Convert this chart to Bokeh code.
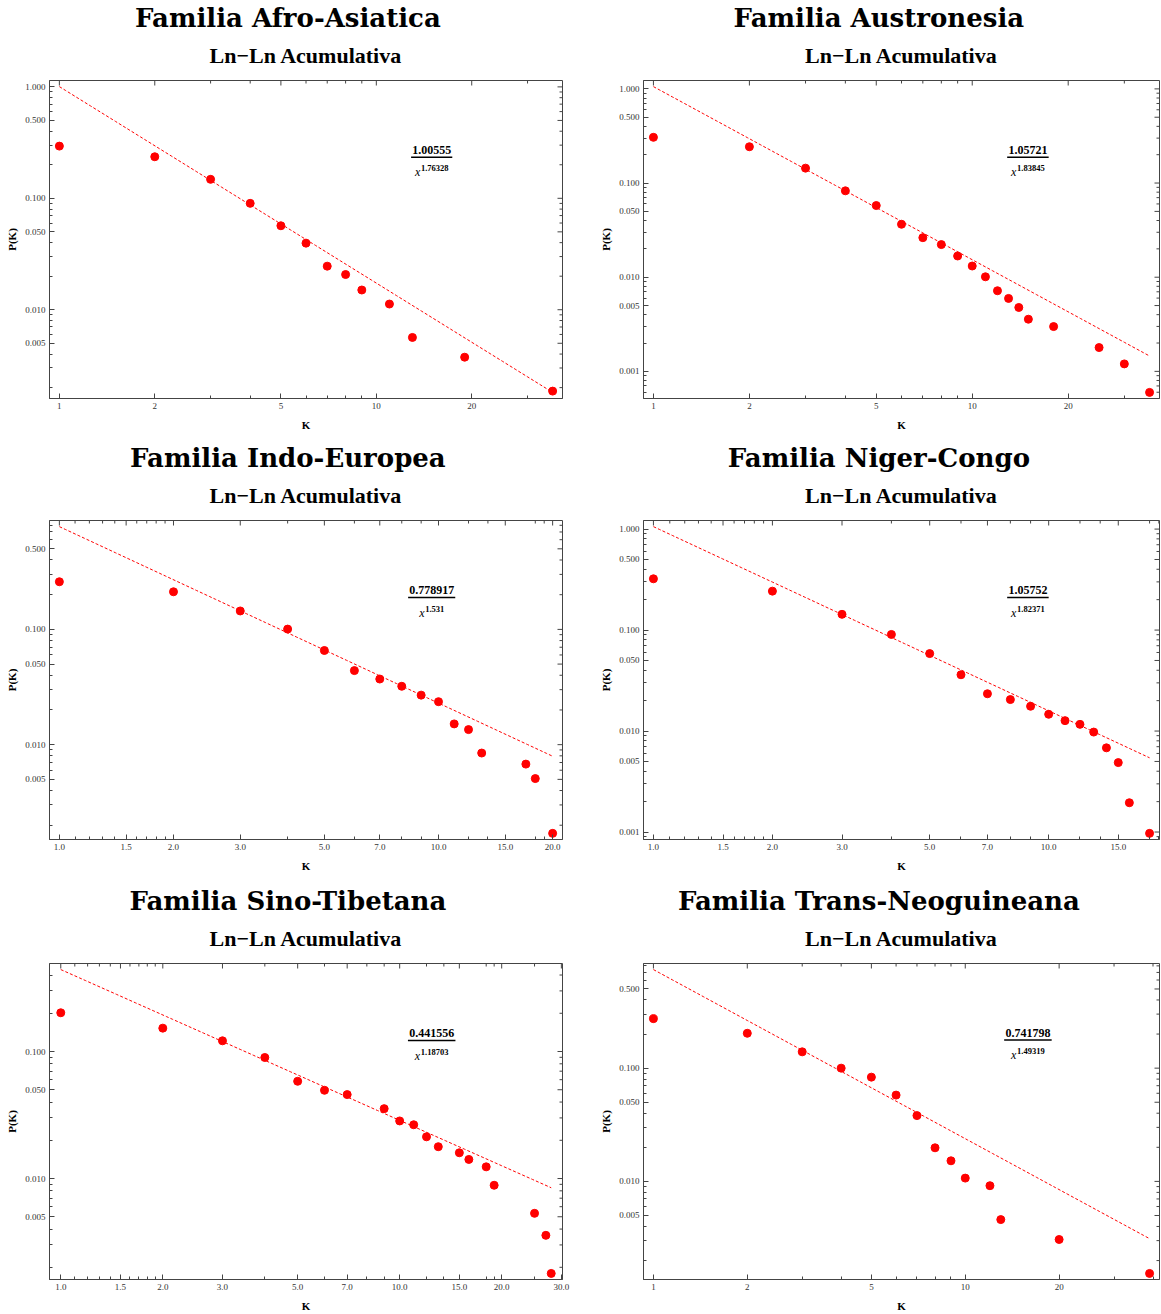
import numpy as np
from bokeh.plotting import figure
from bokeh.models import Range1d, FixedTicker, PrintfTickFormatter, Title
from bokeh.layouts import gridplot
from bokeh.embed import file_html
from bokeh.resources import INLINE
from bokeh.core.properties import value

# ---- data: cumulative degree distributions P(K) and power-law fits c / x^e ----
afro_k = [1, 2, 3, 4, 5, 6, 7, 8, 9, 11, 13, 19, 36]
afro_p = [0.294, 0.236, 0.148, 0.0901, 0.0567, 0.0396, 0.0246, 0.0207, 0.01503,
          0.01125, 0.00564, 0.00375, 0.00186]
afro_fit = (1.00555, 1.76328)

austro_k = [1, 2, 3, 4, 5, 6, 7, 8, 9, 10, 11, 12, 13, 14, 15, 18, 25, 30, 36]
austro_p = [0.306, 0.243, 0.144, 0.0827, 0.0577, 0.0365, 0.0263, 0.0222, 0.0168,
            0.01315, 0.0101, 0.00718, 0.00595, 0.00477, 0.00358, 0.00299, 0.00179,
            0.00120, 0.000598]
austro_fit = (1.05721, 1.83845)

indo_k = [1, 2, 3, 4, 5, 6, 7, 8, 9, 10, 11, 12, 13, 17, 18, 20]
indo_p = [0.259, 0.212, 0.1445, 0.1006, 0.0656, 0.0439, 0.0371, 0.0321, 0.0269,
          0.0236, 0.01514, 0.01351, 0.00846, 0.00678, 0.00508, 0.00170]
indo_fit = (0.778917, 1.531)

niger_k = [1, 2, 3, 4, 5, 6, 7, 8, 9, 10, 11, 12, 13, 14, 15, 16, 18]
niger_p = [0.322, 0.243, 0.1432, 0.0905, 0.0585, 0.0361, 0.0234, 0.0205, 0.0176,
           0.01466, 0.01268, 0.01165, 0.00977, 0.00682, 0.00487, 0.00195, 0.00097]
niger_fit = (1.05752, 1.82371)

sino_k = [1, 2, 3, 4, 5, 6, 7, 9, 10, 11, 12, 13, 15, 16, 18, 19, 25, 27, 28]
sino_p = [0.2018, 0.1527, 0.1214, 0.0897, 0.0583, 0.0495, 0.0458, 0.0355, 0.0284,
          0.0265, 0.0213, 0.0178, 0.01595, 0.01413, 0.01236, 0.00885, 0.00532,
          0.00357, 0.00179]
sino_fit = (0.441556, 1.18703)

trans_k = [1, 2, 3, 4, 5, 6, 7, 8, 9, 10, 12, 13, 20, 39]
trans_p = [0.2735, 0.2032, 0.1393, 0.100, 0.0833, 0.0578, 0.0381, 0.0198, 0.0152,
           0.01069, 0.00916, 0.00460, 0.00307, 0.00154]
trans_fit = (0.741798, 1.49319)

titles = ["Familia Afro-Asiatica", "Familia Austronesia", "Familia Indo-Europea",
          "Familia Niger-Congo", "Familia Sino-Tibetana", "Familia Trans-Neoguineana"]
subtitle = "Ln\u2212Ln Acumulativa"

x_major_int = [1, 2, 5, 10, 20, 50]
x_minor_int = [3, 4, 6, 7, 8, 9, 30, 40]
x_major_dec = [1, 1.5, 2, 3, 5, 7, 10, 15, 20, 30]
x_minor_dec = [1.1, 1.2, 1.3, 1.4, 1.6, 1.7, 1.8, 1.9, 4, 6, 8, 9, 12, 13.5, 18, 19, 25]
y_major = [0.0001, 0.0005, 0.001, 0.005, 0.01, 0.05, 0.1, 0.5, 1.0]
y_minor = [d * 10.0 ** e for e in range(-4, 1) for d in (2, 3, 4, 6, 7, 8, 9)]

SERIF = "Liberation Serif"
FRAME = "#444444"
NBSP = "\u00a0"

# canvas layout per panel:
# (width, height, border_left, border_right, border_top, border_bottom,
#  heading pad (trailing no-break spaces pull the heading left), x_margin_fraction)
geoms = [
    (581, 440, 49, 15, 80, 41, 4, 0.02),
    (580, 440, 62, 2, 79, 42, 5, 0.02),
    (581, 440, 49, 15, 80, 41, 4, 0.02),
    (580, 440, 62, 2, 80, 41, 5, 0.02),
    (581, 434, 49, 19, 83, 35, 4, 0.023),
    (580, 434, 62, 2, 81, 35, 5, 0.02),
]


def style_axis(ax, major, minor, fmt):
    ax.ticker = FixedTicker(ticks=major, minor_ticks=minor)
    ax.formatter = PrintfTickFormatter(format=fmt)
    ax.axis_line_color = FRAME
    ax.major_tick_line_color = FRAME
    ax.minor_tick_line_color = FRAME
    ax.major_tick_in = 5
    ax.major_tick_out = 0
    ax.minor_tick_in = 3
    ax.minor_tick_out = 0
    ax.major_label_text_font = SERIF
    ax.major_label_text_font_size = "9px"
    ax.major_label_text_color = "#333333"
    ax.major_label_standoff = 4
    ax.axis_label_text_font = SERIF
    ax.axis_label_text_font_style = "bold"
    ax.axis_label_text_font_size = "11px"
    ax.axis_label_text_color = "black"


def panel(title, ks, ps, fit, xmajor, xminor, xfmt, geom):
    w, h, bl, br, bt, bb, pad, xm = geom
    coef, expo = fit
    kk = np.asarray(ks, dtype=float)
    pp = np.asarray(ps, dtype=float)
    kline = np.geomspace(kk.min(), kk.max(), 80)
    pline = coef * kline ** (-expo)

    # log-space extents with a small margin on each side
    lx0, lx1 = np.log10(kk.min()), np.log10(kk.max())
    ly0 = np.log10(min(pp.min(), pline.min()))
    ly1 = np.log10(max(pp.max(), pline.max()))
    mx, my = xm * (lx1 - lx0), 0.02 * (ly1 - ly0)
    lx0, lx1, ly0, ly1 = lx0 - mx, lx1 + mx, ly0 - my, ly1 + my
    xlo, xhi, ylo, yhi = 10 ** lx0, 10 ** lx1, 10 ** ly0, 10 ** ly1

    p = figure(width=w, height=h, x_axis_type="log", y_axis_type="log",
               x_range=Range1d(xlo, xhi), y_range=Range1d(ylo, yhi),
               output_backend="svg", toolbar_location=None, title=None,
               min_border_left=bl, min_border_right=br,
               min_border_top=bt, min_border_bottom=bb)
    p.background_fill_color = "white"
    p.border_fill_color = "white"
    p.outline_line_color = FRAME
    p.xgrid.visible = False
    p.ygrid.visible = False

    style_axis(p.xaxis[0], xmajor, xminor, xfmt)
    style_axis(p.yaxis[0], y_major, y_minor, "%.3f")
    p.xaxis[0].axis_label = "K"
    p.xaxis[0].axis_label_standoff = 7
    p.yaxis[0].axis_label = "P(K)"
    p.yaxis[0].axis_label_standoff = 4

    # heading and subheading stacked above the frame
    p.add_layout(Title(text=subtitle, align="center", text_font=SERIF,
                       text_font_style="bold", text_font_size="22px",
                       text_color="black", standoff=25), "above")
    p.add_layout(Title(text=title + NBSP * pad, align="center",
                       text_font="DejaVu Serif", text_font_style="bold",
                       text_font_size="26px", text_color="black", standoff=-8), "above")

    # mirrored inward ticks along the top and right edges of the frame
    def inside(vals, lo, hi):
        return [v for v in vals if lo <= v <= hi]

    for vals, size in ((xmajor, 10), (xminor, 6)):
        xs = inside(vals, xlo, xhi)
        p.scatter(xs, [yhi] * len(xs), marker="dash", angle=np.pi / 2, size=size,
                  line_color=FRAME, line_width=1)
    for vals, size in ((y_major, 10), (y_minor, 6)):
        ys = inside(vals, ylo, yhi)
        p.scatter([xhi] * len(ys), ys, marker="dash", size=size,
                  line_color=FRAME, line_width=1)

    # fitted power law and the data points
    p.line(kline, pline, line_color="red", line_width=1, line_dash="3 2")
    p.scatter(kk, pp, size=8, fill_color="red", line_color="red")

    # fit formula drawn as a small fraction inside the frame
    fw, fh = w - bl - br, h - bt - bb

    def at(px, py):
        return (10 ** (lx0 + px / fw * (lx1 - lx0)),
                10 ** (ly1 - py / fh * (ly1 - ly0)))

    num = f"{coef:.6g}"
    sup = f"{expo:.6g}"
    cx = 0.745 * fw
    bar_w = (len(num) - 1) * 6.0 + 3.5 + 2
    nx, ny = at(cx, 69.5)
    p.text(x=[nx], y=[ny], text=[num], text_font=value(SERIF), text_font_style="bold",
           text_font_size="12px", text_align="center", text_baseline="alphabetic",
           text_color="black")
    bx0, by = at(cx - bar_w / 2, 77)
    bx1, _ = at(cx + bar_w / 2, 77)
    p.segment(x0=[bx0], y0=[by], x1=[bx1], y1=[by], line_color="black", line_width=1.5)
    sup_w = ((len(sup) - 1) * 0.5 + 0.25) * 8.5
    gx = cx - (6.0 + sup_w) / 2
    xx, xy = at(gx, 92)
    p.text(x=[xx], y=[xy], text=["x"], text_font=value(SERIF), text_font_style="italic",
           text_font_size="12px", text_align="left", text_baseline="alphabetic",
           text_color="black")
    sx, sy = at(gx + 6.0, 88)
    p.text(x=[sx], y=[sy], text=[sup], text_font=value(SERIF), text_font_style="bold",
           text_font_size="8.5px", text_align="left", text_baseline="alphabetic",
           text_color="black")
    return p


plots = [
    panel(titles[0], afro_k, afro_p, afro_fit, x_major_int, x_minor_int, "%d", geoms[0]),
    panel(titles[1], austro_k, austro_p, austro_fit, x_major_int, x_minor_int, "%d", geoms[1]),
    panel(titles[2], indo_k, indo_p, indo_fit, x_major_dec, x_minor_dec, "%.1f", geoms[2]),
    panel(titles[3], niger_k, niger_p, niger_fit, x_major_dec, x_minor_dec, "%.1f", geoms[3]),
    panel(titles[4], sino_k, sino_p, sino_fit, x_major_dec, x_minor_dec, "%.1f", geoms[4]),
    panel(titles[5], trans_k, trans_p, trans_fit, x_major_int, x_minor_int, "%d", geoms[5]),
]

grid = gridplot([plots[0:2], plots[2:4], plots[4:6]], toolbar_location=None)

open("out.html", "w").write(file_html(grid, INLINE))
